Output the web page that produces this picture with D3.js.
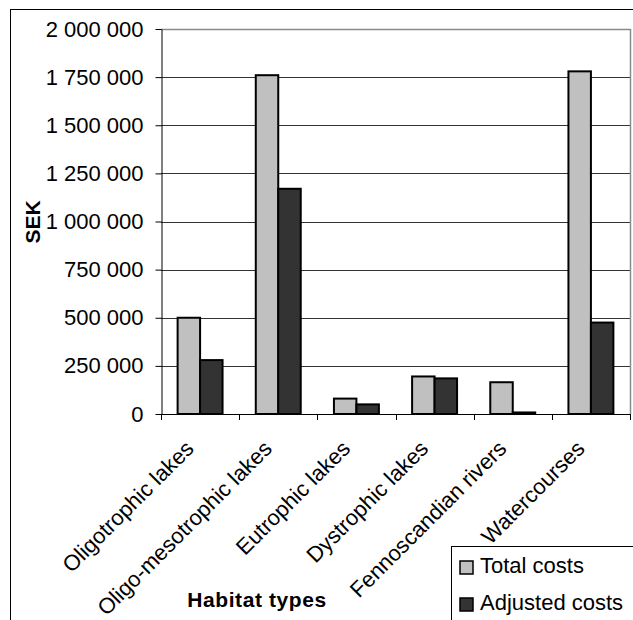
<!DOCTYPE html>
<html>
<head>
<meta charset="utf-8">
<script src="https://cdn.jsdelivr.net/npm/d3@7"></script>
<style>
  html, body { margin: 0; padding: 0; background: #fff; }
  svg { display: block; font-family: "Liberation Sans", Arial, sans-serif; }
</style>
</head>
<body>
<svg id="chart" width="633" height="620"></svg>
<script>
// Habitat types and their costs (SEK)
const categories = [
  "Oligotrophic lakes",
  "Oligo-mesotrophic lakes",
  "Eutrophic lakes",
  "Dystrophic lakes",
  "Fennoscandian rivers",
  "Watercourses"
];
const totalCosts    = [500000, 1760000, 80000, 195000, 165000, 1780000];
const adjustedCosts = [280000, 1170000, 50000, 185000, 8000, 475000];
const seriesNames   = ["Total costs", "Adjusted costs"];
const seriesColors  = ["#c0c0c0", "#333333"];
const yTickValues   = [0, 250000, 500000, 750000, 1000000, 1250000, 1500000, 1750000, 2000000];

const rows = categories.map((c, i) => ({
  category: c,
  values: [totalCosts[i], adjustedCosts[i]]
}));

const FONT = 22;
const svg = d3.select("#chart");

// outer chart frame (runs past the right and bottom edges)
svg.append("rect")
  .attr("x", 10.5).attr("y", 9.5)
  .attr("width", 700).attr("height", 700)
  .attr("fill", "#fff").attr("stroke", "#000").attr("stroke-width", 1);

const plot = { left: 161, right: 630, top: 29, bottom: 414 };

const x0 = d3.scaleBand().domain(categories).range([plot.left, plot.right]).padding(0);
const groupW = x0.bandwidth() * 0.575;
const x1 = d3.scaleBand().domain(seriesNames).range([0, groupW]).padding(0);
const y = d3.scaleLinear().domain([0, 2000000]).range([plot.bottom, plot.top]);

const locale = d3.formatLocale({ decimal: ",", thousands: " ", grouping: [3], currency: ["", ""] });
const fmt = locale.format(",");

// gridlines
svg.append("g")
  .selectAll("line")
  .data(yTickValues.filter(v => v > 0 && v < 2000000))
  .join("line")
  .attr("x1", plot.left).attr("x2", plot.right)
  .attr("y1", d => Math.round(y(d)) + 0.5).attr("y2", d => Math.round(y(d)) + 0.5)
  .attr("stroke", "#333").attr("stroke-width", 1);

// plot area border (top and right)
svg.append("path")
  .attr("d", `M${plot.left},${plot.top + 0.5}H${plot.right + 0.5}V${plot.bottom}`)
  .attr("fill", "none").attr("stroke", "#8a8a8a").attr("stroke-width", 1.5);

// bars
const groups = svg.append("g")
  .selectAll("g")
  .data(rows)
  .join("g")
  .attr("transform", d => `translate(${x0(d.category) + (x0.bandwidth() - groupW) / 2},0)`);

groups.selectAll("rect")
  .data(d => d.values.map((v, i) => ({ key: seriesNames[i], value: v, color: seriesColors[i] })))
  .join("rect")
  .attr("x", d => x1(d.key))
  .attr("width", x1.bandwidth())
  .attr("y", d => y(d.value))
  .attr("height", d => y(0) - y(d.value))
  .attr("fill", d => d.color)
  .attr("stroke", "#000")
  .attr("stroke-width", 2);

// y axis
const yAxis = svg.append("g")
  .attr("transform", `translate(${plot.left + 0.5},0)`)
  .call(d3.axisLeft(y).tickValues(yTickValues).tickFormat(fmt).tickSizeInner(6).tickSizeOuter(0).tickPadding(12));
yAxis.select(".domain").attr("stroke", "#000");
yAxis.selectAll(".tick line").attr("stroke", "#000");
yAxis.selectAll("text")
  .attr("font-size", FONT)
  .attr("font-family", "Liberation Sans, Arial, sans-serif")
  .attr("fill", "#000");

// x axis line and category boundary ticks
svg.append("line")
  .attr("x1", plot.left).attr("x2", plot.right)
  .attr("y1", plot.bottom + 0.5).attr("y2", plot.bottom + 0.5)
  .attr("stroke", "#000");
svg.append("g")
  .selectAll("line")
  .data(categories.map(c => x0(c)).concat([plot.right]))
  .join("line")
  .attr("x1", d => Math.round(d) + 0.5).attr("x2", d => Math.round(d) + 0.5)
  .attr("y1", plot.bottom).attr("y2", plot.bottom + 6)
  .attr("stroke", "#000");

// rotated category labels
svg.append("g")
  .selectAll("text")
  .data(categories)
  .join("text")
  .attr("transform", d => {
    const cx = x0(d) + x0.bandwidth() / 2 - 5;
    const cy = plot.bottom + 36;
    return `translate(${cx},${cy}) rotate(-45)`;
  })
  .attr("text-anchor", "end")
  .attr("font-size", FONT)
  .attr("fill", "#000")
  .text(d => d);

// axis titles
svg.append("text")
  .attr("transform", "translate(40,222) rotate(-90)")
  .attr("text-anchor", "middle")
  .attr("font-size", 21)
  .attr("font-weight", "bold")
  .text("SEK");

svg.append("text")
  .attr("x", 257).attr("y", 607)
  .attr("text-anchor", "middle")
  .attr("font-size", 21)
  .attr("font-weight", "bold")
  .attr("letter-spacing", 0.6)
  .text("Habitat types");

// legend
const legend = svg.append("g");
legend.append("rect")
  .attr("x", 451.5).attr("y", 546.5)
  .attr("width", 300).attr("height", 200)
  .attr("fill", "#fff").attr("stroke", "#000").attr("stroke-width", 1);
const items = legend.selectAll("g.item")
  .data(seriesNames)
  .join("g")
  .attr("class", "item")
  .attr("transform", (d, i) => `translate(460,${561 + i * 37})`);
items.append("rect")
  .attr("width", 13).attr("height", 13)
  .attr("fill", (d, i) => seriesColors[i])
  .attr("stroke", "#000").attr("stroke-width", 1.5);
items.append("text")
  .attr("x", 20).attr("y", 12)
  .attr("font-size", FONT)
  .attr("fill", "#000")
  .text(d => d);
</script>
</body>
</html>
